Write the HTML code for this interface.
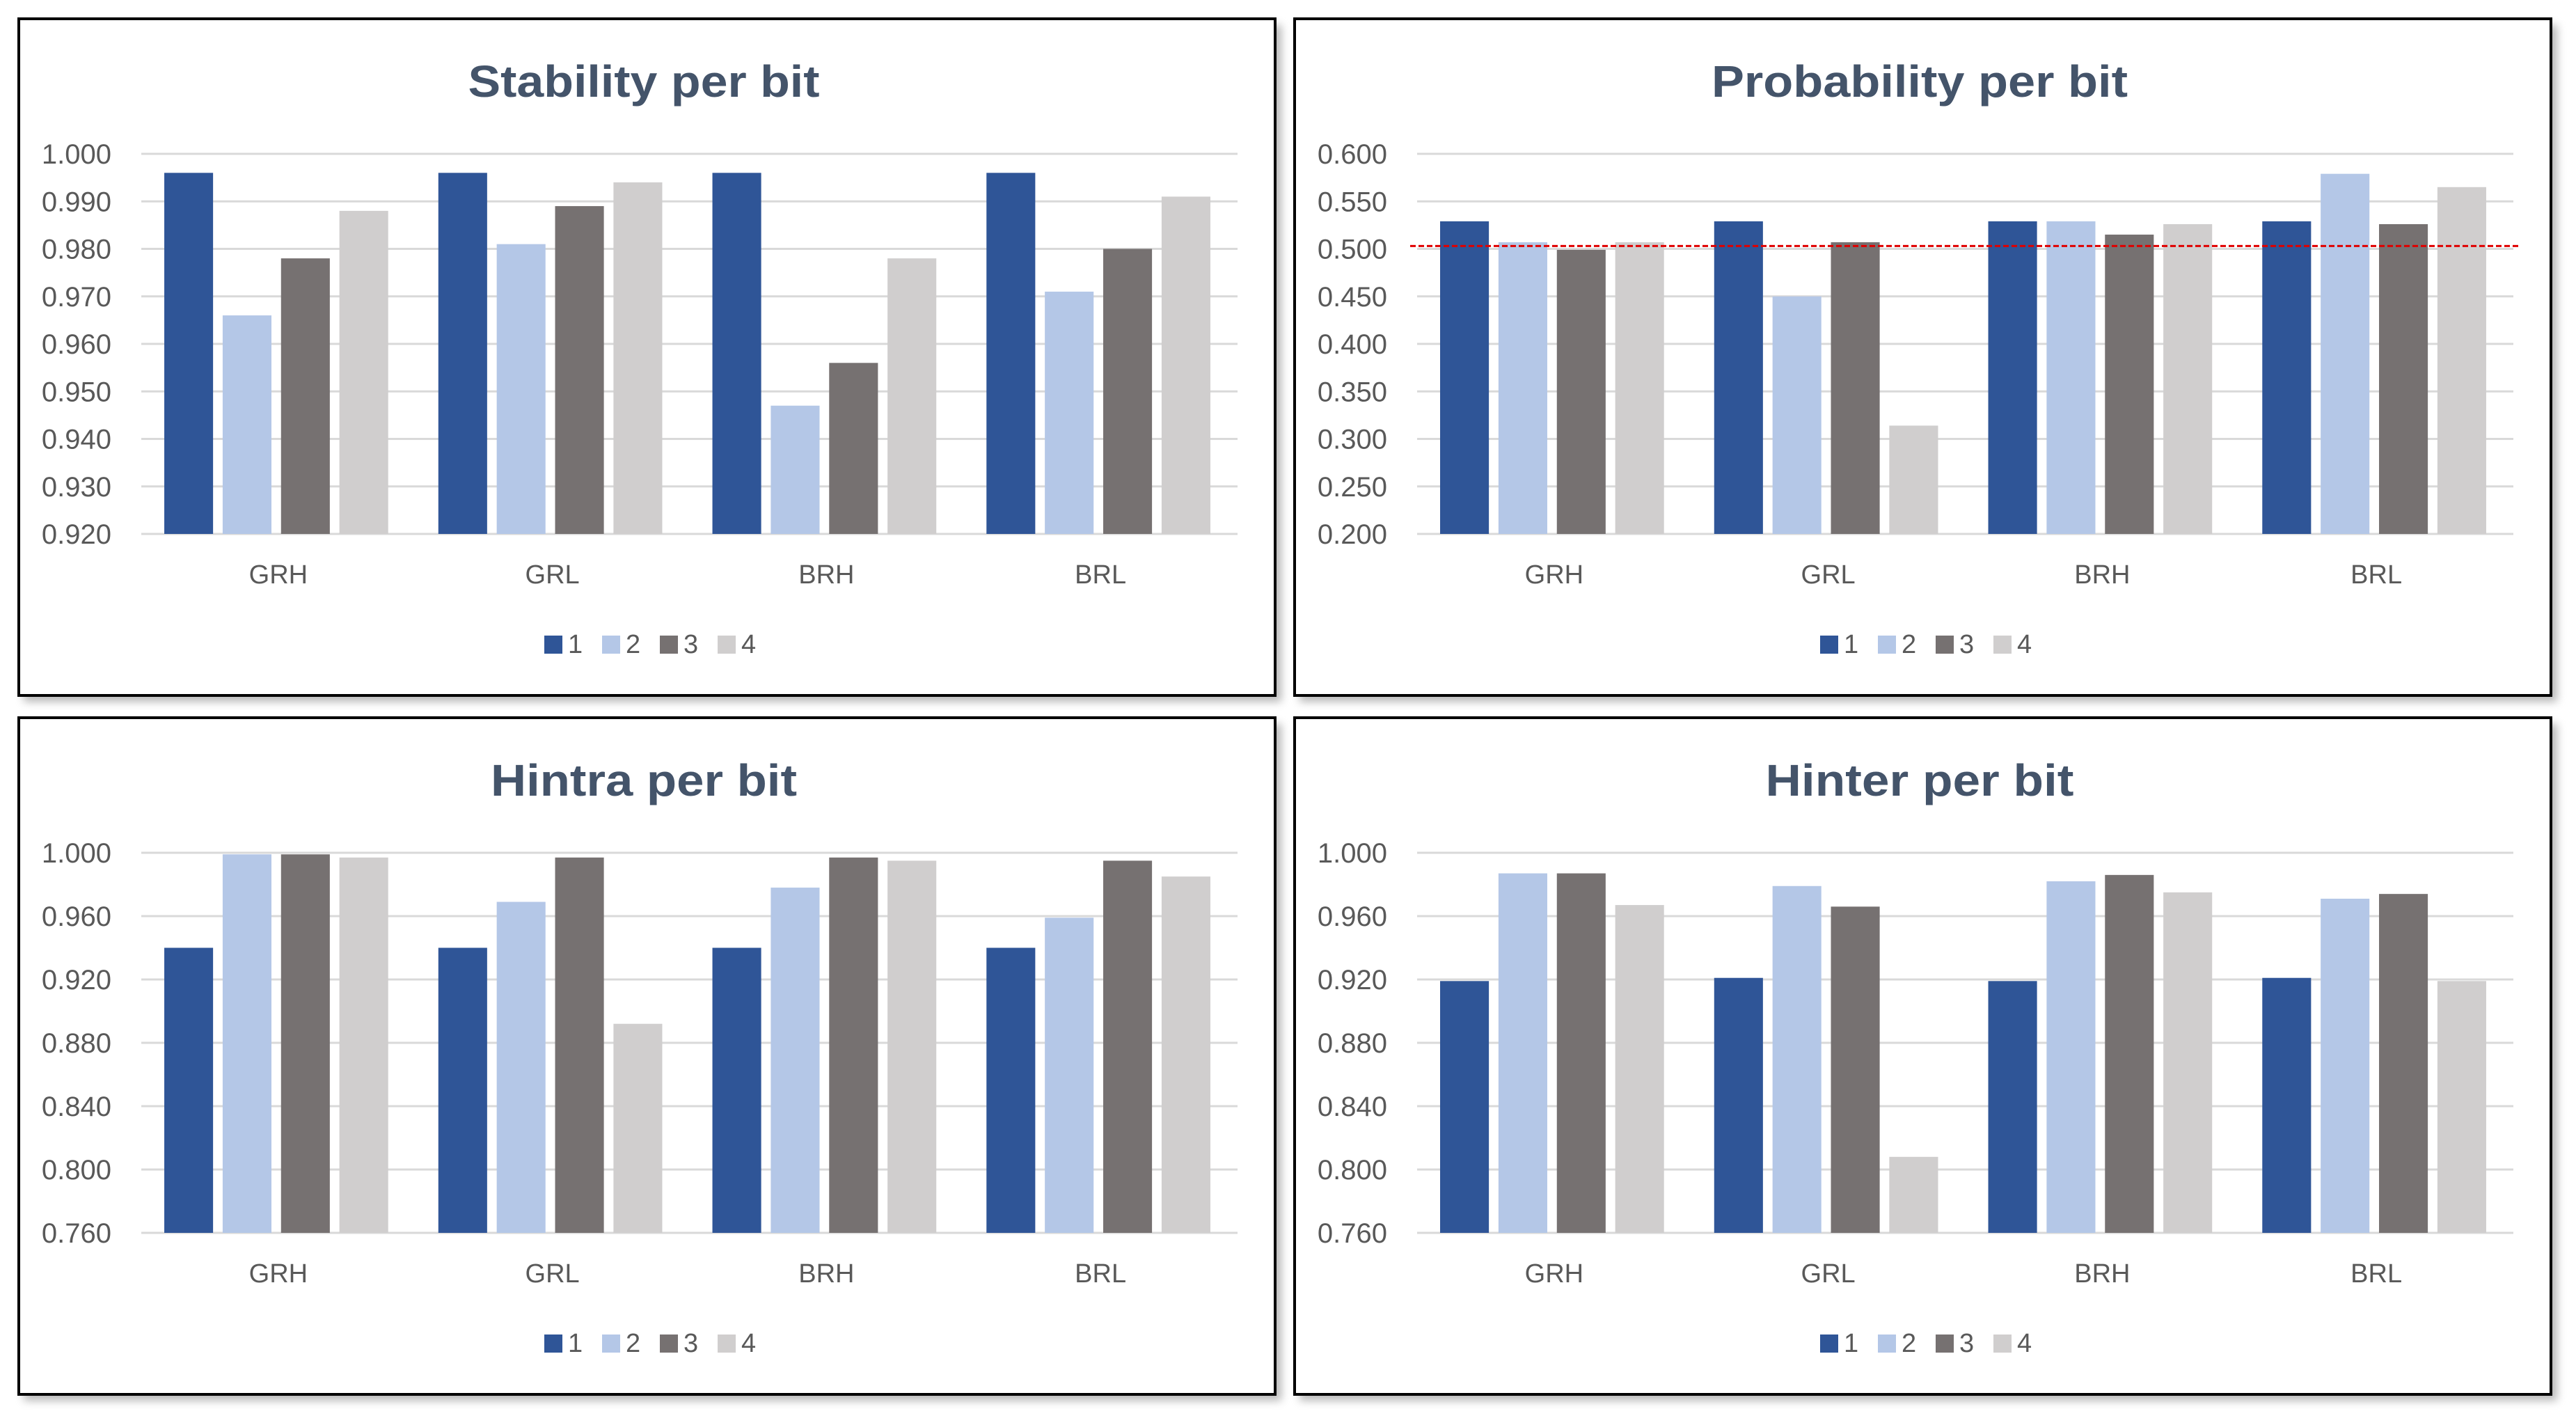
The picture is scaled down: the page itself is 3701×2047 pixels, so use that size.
<!DOCTYPE html>
<html><head><meta charset="utf-8"><style>
html,body{margin:0;padding:0;background:#fff;}
svg{display:block;font-family:"Liberation Sans",sans-serif;}
</style></head><body>
<svg id="chart" width="3701" height="2047" viewBox="0 0 3701 2047" xmlns="http://www.w3.org/2000/svg">
<defs><filter id="sh" x="-5%" y="-5%" width="110%" height="115%"><feGaussianBlur stdDeviation="6"/></filter></defs>
</svg>
<script>
const categories = ["GRH","GRL","BRH","BRL"];
const seriesNames = ["1","2","3","4"];
const stability1 = [0.996,0.996,0.996,0.996];
const stability2 = [0.966,0.981,0.947,0.971];
const stability3 = [0.978,0.989,0.956,0.980];
const stability4 = [0.988,0.994,0.978,0.991];
const stabilityTicks = ["1.000","0.990","0.980","0.970","0.960","0.950","0.940","0.930","0.920"];
const probability1 = [0.529,0.529,0.529,0.529];
const probability2 = [0.507,0.450,0.529,0.579];
const probability3 = [0.499,0.507,0.515,0.526];
const probability4 = [0.507,0.314,0.526,0.565];
const probabilityTicks = ["0.600","0.550","0.500","0.450","0.400","0.350","0.300","0.250","0.200"];
const probabilityRef = 0.503;
const hintra1 = [0.940,0.940,0.940,0.940];
const hintra2 = [0.999,0.969,0.978,0.959];
const hintra3 = [0.999,0.997,0.997,0.995];
const hintra4 = [0.997,0.892,0.995,0.985];
const hintraTicks = ["1.000","0.960","0.920","0.880","0.840","0.800","0.760"];
const hinter1 = [0.919,0.921,0.919,0.921];
const hinter2 = [0.987,0.979,0.982,0.971];
const hinter3 = [0.987,0.966,0.986,0.974];
const hinter4 = [0.967,0.808,0.975,0.919];
const hinterTicks = ["1.000","0.960","0.920","0.880","0.840","0.800","0.760"];

const NS="http://www.w3.org/2000/svg";
const svg=document.getElementById('chart');
const colors=["#2F5597","#B4C7E7","#767171","#D0CECE"];
function mk(tag,attrs,parent){const e=document.createElementNS(NS,tag);for(const k in attrs)e.setAttribute(k,attrs[k]);(parent||svg).appendChild(e);return e;}

const panels=[
 {title:"Stability per bit",tw:505,name:"stability",dx:0,dy:0,series:[stability1,stability2,stability3,stability4],ticks:stabilityTicks,min:0.92,max:1.0},
 {title:"Probability  per bit",tw:598,name:"probability",dx:1833,dy:0,series:[probability1,probability2,probability3,probability4],ticks:probabilityTicks,min:0.2,max:0.6,ref:probabilityRef},
 {title:"Hintra per bit",tw:440,name:"hintra",dx:0,dy:1004,series:[hintra1,hintra2,hintra3,hintra4],ticks:hintraTicks,min:0.76,max:1.0},
 {title:"Hinter per bit",tw:443,name:"hinter",dx:1833,dy:1004,series:[hinter1,hinter2,hinter3,hinter4],ticks:hinterTicks,min:0.76,max:1.0}
];

panels.forEach(p=>{
 const g=mk('g',{transform:`translate(${p.dx},${p.dy})`});
 
 
 const shadow=mk('rect',{x:34,y:36,width:1807,height:972,fill:'#888',opacity:0.6,filter:'url(#sh)'},g);
 
 
 const box=mk('rect',{x:27,y:27,width:1805,height:972,fill:'#fff',stroke:'#000','stroke-width':4},g);
 
 
 const t=mk('text',{x:925,y:139,'text-anchor':'middle','font-size':64,'font-weight':'bold',fill:'#44546A',textLength:p.tw,lengthAdjust:'spacingAndGlyphs'},g);
 t.textContent=p.title;
 
 
 const L=203,R=1778,T=221,B=767;
 const y=v=>B-(v-p.min)/(p.max-p.min)*(B-T);
 p.ticks.forEach((lab,i)=>{
  const v=parseFloat(lab);
  const yy=y(v);
  const gl=mk('line',{x1:L,x2:R,y1:yy,y2:yy,stroke:'#D9D9D9','stroke-width':3},g);
  
  
  const tl=mk('text',{x:160,y:yy+14,'text-anchor':'end','font-size':40,fill:'#595959'},g);
  tl.textContent=lab;
  
  
 });
 const gw=(R-L)/categories.length, bw=gw*0.178, gap=gw*0.035, off=(gw-(4*bw+3*gap))/2;
 categories.forEach((c,ci)=>{
  p.series.forEach((s,si)=>{
   const x=L+ci*gw+off+si*(bw+gap)-3;
   const yt=y(s[ci]);
   const r=mk('rect',{x:x,y:yt,width:bw,height:B-yt,fill:colors[si]},g);
   
   
  });
  const cl=mk('text',{x:L+ci*gw+gw/2,y:838,'text-anchor':'middle','font-size':38,fill:'#595959'},g);
  cl.textContent=c;
  
  
 });
 if(p.ref!==undefined){
  const rl=mk('line',{x1:L-10,x2:R+10,y1:y(p.ref),y2:y(p.ref),stroke:'#E00000','stroke-width':3,'stroke-dasharray':'8 4'},g);
  
  
 }
 seriesNames.forEach((n,si)=>{
  const lx=782+si*83;
  const sq=mk('rect',{x:lx,y:913,width:26,height:26,fill:colors[si]},g);
  
  
  const lt=mk('text',{x:lx+34,y:938,'font-size':38,fill:'#595959'},g);
  lt.textContent=n;
  
  
 });
});
</script>
</body></html>
